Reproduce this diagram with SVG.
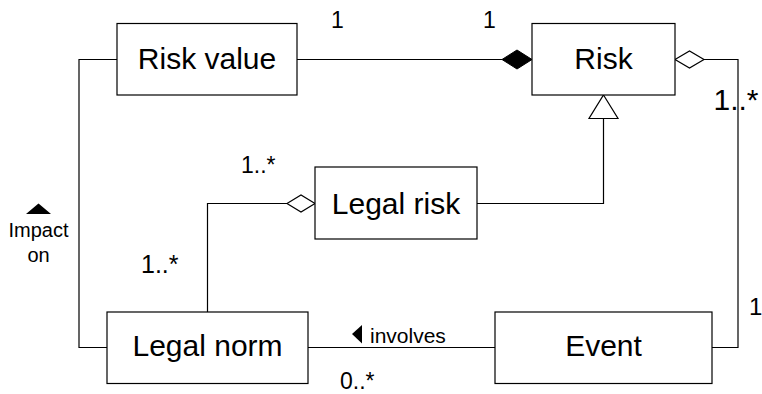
<svg xmlns="http://www.w3.org/2000/svg" width="762" height="394" viewBox="0 0 762 394">
<style>
.box{fill:#fff;stroke:#000;stroke-width:1.2}
.name{font-family:"Liberation Sans",Arial,sans-serif;font-size:30px;text-anchor:middle;fill:#000}
.lbl{font-family:"Liberation Sans",Arial,sans-serif;font-size:23px;fill:#000}
.sm{font-family:"Liberation Sans",Arial,sans-serif;font-size:20px;fill:#000}
.ln{fill:none;stroke:#000;stroke-width:1.2}
</style>
<rect width="762" height="394" fill="#fff"/>
<g id="connectors">
  <polyline class="ln" points="297,59.5 502,59.5"/>
  <polygon points="502,59.5 517,50 532,59.5 517,69" fill="#000" stroke="#000" stroke-width="1"/>
  <polyline class="ln" points="704,59.5 738,59.5 738,347.5 712,347.5"/>
  <polygon class="ln" points="675,59.5 689.5,51 704,59.5 689.5,68" fill="#fff"/>
  <polyline class="ln" points="477,203.5 603.5,203.5 603.5,118.5"/>
  <polygon class="ln" points="603.5,95 618,118.5 589,118.5" fill="#fff"/>
  <polyline class="ln" points="287,203.5 207.5,203.5 207.5,312"/>
  <polygon class="ln" points="287,203.5 301,195 315,203.5 301,212" fill="#fff"/>
  <polyline class="ln" points="117,59.5 79,59.5 79,347.5 107,347.5"/>
  <polyline class="ln" points="308,347.5 495,347.5"/>
  <polygon points="38.5,203.5 51,214 26,214" fill="#000"/>
  <polygon points="352,334 362,325 362,343.5" fill="#000"/>
  <text class="lbl" x="331" y="28">1</text>
  <text class="lbl" x="483" y="28">1</text>
  <text class="lbl" x="713.5" y="110" style="font-size:30px">1..*</text>
  <text class="lbl" x="749" y="315" style="font-size:24px">1</text>
  <text class="lbl" x="241" y="173">1..*</text>
  <text class="lbl" x="141" y="273" style="font-size:25px">1..*</text>
  <text class="lbl" x="340" y="389">0..*</text>
  <text class="sm" x="370" y="343" style="font-size:21px">involves</text>
  <text class="sm" x="38.5" y="237" text-anchor="middle">Impact</text>
  <text class="sm" x="38.5" y="261.5" text-anchor="middle">on</text>
</g>
<g id="risk-value">
  <rect class="box" x="117" y="23.5" width="180" height="71.5"/>
  <text class="name" x="207" y="69">Risk value</text>
</g>
<g id="risk">
  <rect class="box" x="532" y="23.5" width="143" height="71.5"/>
  <text class="name" x="603.5" y="69">Risk</text>
</g>
<g id="legal-risk">
  <rect class="box" x="315" y="167" width="162" height="72"/>
  <text class="name" x="396" y="213.5">Legal risk</text>
</g>
<g id="legal-norm">
  <rect class="box" x="107" y="312" width="201" height="71.5"/>
  <text class="name" x="207.5" y="356">Legal norm</text>
</g>
<g id="event">
  <rect class="box" x="495" y="312" width="217" height="71.5"/>
  <text class="name" x="603.5" y="356">Event</text>
</g>
</svg>
